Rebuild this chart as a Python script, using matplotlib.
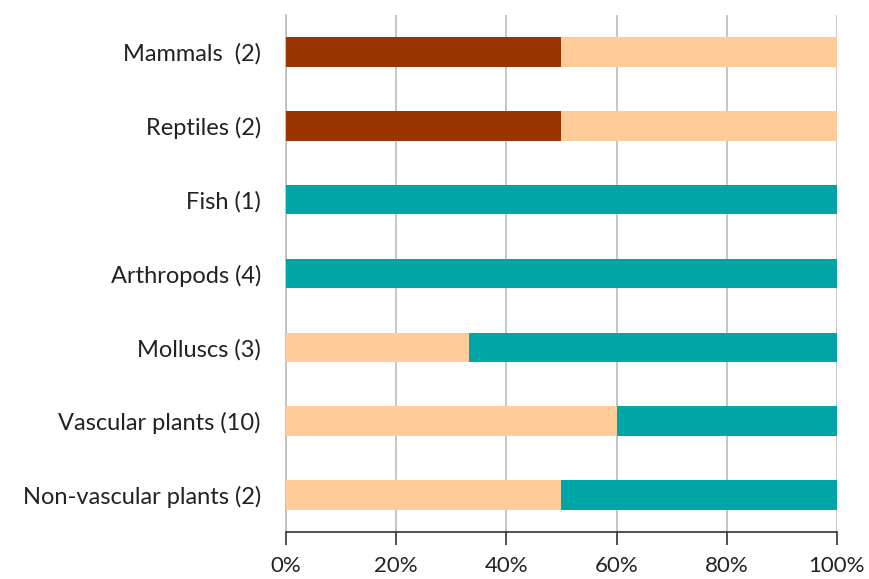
import matplotlib.pyplot as plt
import numpy as np

plt.rcParams['font.family'] = ['Lato', 'DejaVu Sans']

categorias = ['Mammals  (2)', 'Reptiles (2)', 'Fish (1)', 'Arthropods (4)',
              'Molluscs (3)', 'Vascular plants (10)', 'Non-vascular plants (2)']
serie_marrom = [0.50, 0.50, 0.0, 0.0, 0.0, 0.0, 0.0]
serie_pessego = [0.50, 0.50, 0.0, 0.0, 0.333, 0.60, 0.50]
serie_verde = [0.0, 0.0, 1.0, 1.0, 0.667, 0.40, 0.50]
ticks_x = [0, 0.2, 0.4, 0.6, 0.8, 1.0]
rotulos_x = ['0%', '20%', '40%', '60%', '80%', '100%']

fig = plt.figure(figsize=(8.7, 5.79), dpi=100)
ax = fig.add_axes([0.3287, 0.0812, 0.6333, 0.8928])

y = np.arange(len(categorias))
altura = 0.4
ax.barh(y, serie_marrom, height=altura, color='#993300', zorder=3)
ax.barh(y, serie_pessego, left=serie_marrom, height=altura, color='#FFCC99', zorder=3)
base = np.array(serie_marrom) + np.array(serie_pessego)
ax.barh(y, serie_verde, left=base, height=altura, color='#00A6A6', zorder=3)

ax.set_ylim(len(categorias) - 0.5, -0.5)
ax.set_xlim(0, 1.0)
ax.set_yticks(y)
ax.set_yticklabels(categorias, fontsize=17, color='#222222')
ax.set_xticks(ticks_x)
ax.set_xticklabels(rotulos_x, fontsize=16, color='#222222')

ax.grid(axis='x', color='#BBBBBB', linewidth=1.2, zorder=0)
for lado in ['top', 'right']:
    ax.spines[lado].set_visible(False)
ax.spines['left'].set_color('#BBBBBB')
ax.spines['left'].set_linewidth(1.2)
ax.spines['bottom'].set_color('#333333')
ax.spines['bottom'].set_linewidth(1.2)
ax.tick_params(axis='y', length=0, pad=18)
ax.tick_params(axis='x', length=9, width=1.2, color='#333333', pad=8)

fig.savefig('out.png', dpi=100)
